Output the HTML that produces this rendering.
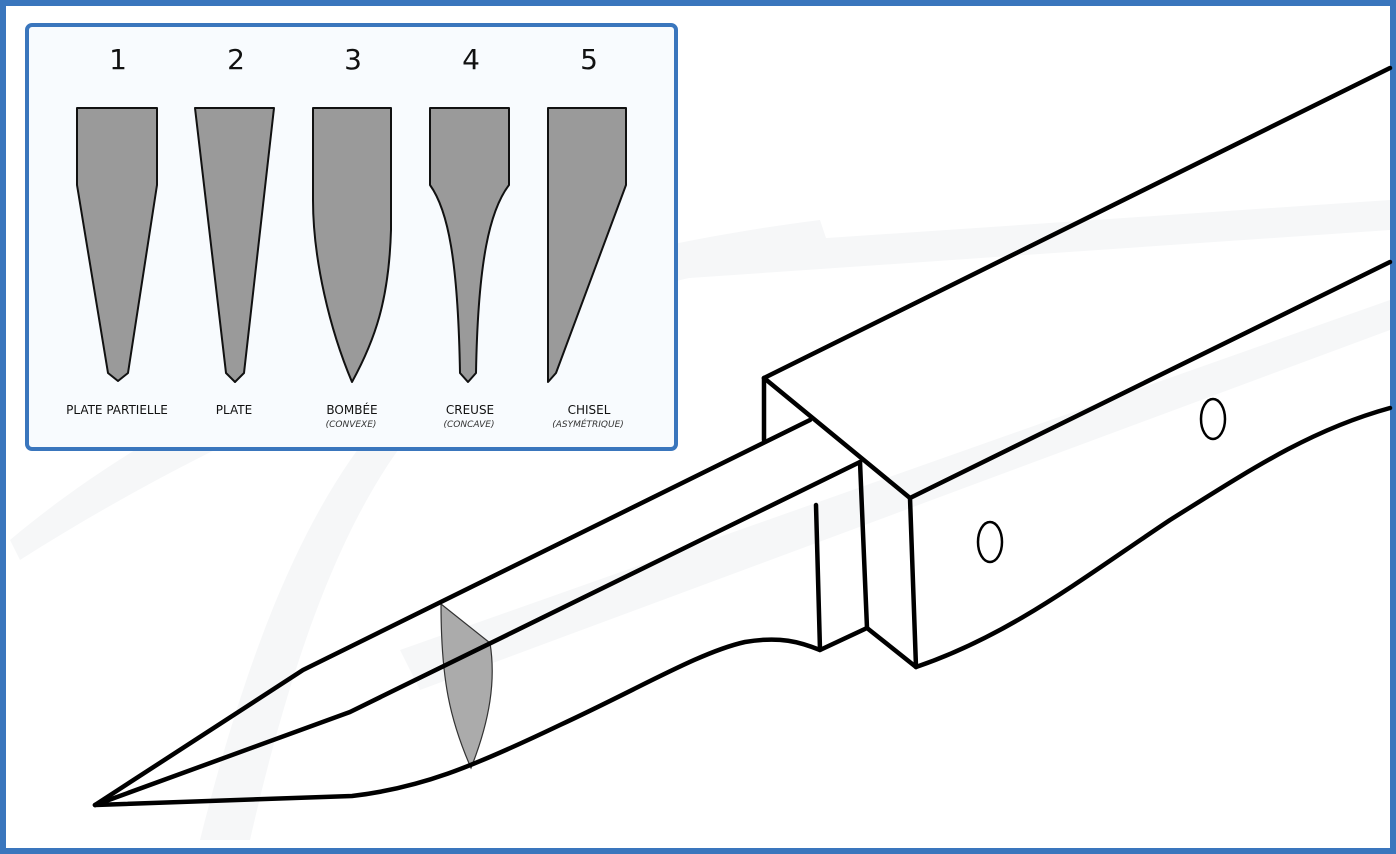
<!DOCTYPE html>
<html><head><meta charset="utf-8"><style>
html,body{margin:0;padding:0;background:#fff}
svg{display:block}
text{font-family:"DejaVu Sans","Liberation Sans",sans-serif}
</style></head><body>
<svg width="1396" height="854" viewBox="0 0 1396 854" xmlns="http://www.w3.org/2000/svg">
<rect x="0" y="0" width="1396" height="854" fill="#fff"/>
<g fill="#f6f7f8">
<path d="M10,540 C200,380 500,260 820,220 L830,250 C520,300 240,420 20,560 Z"/>
<path d="M650,250 L1390,200 L1390,230 L660,280 Z"/>
<path d="M400,650 L1390,300 L1390,330 L420,690 Z"/>
<path d="M200,840 C260,600 330,460 420,380 L440,400 C360,480 300,620 250,840 Z"/>
</g>
<rect x="3" y="3" width="1390" height="848" fill="none" stroke="#3a76bd" stroke-width="6"/>
<rect x="27" y="25" width="649" height="424" rx="5" fill="#f8fbfe" stroke="#3a76bd" stroke-width="4"/>
<g font-size="28" text-anchor="middle" fill="#111">
<text x="118" y="69">1</text><text x="236" y="69">2</text><text x="353" y="69">3</text><text x="471" y="69">4</text><text x="589" y="69">5</text>
</g>
<g fill="#9a9a9a" stroke="#111" stroke-width="2" stroke-linejoin="round">
<path d="M77,108 H157 V185 L128,373 L118,381 L108,373 L77,185 Z"/>
<path d="M195,108 H274 L244,373 L235,382 L226,373 Z"/>
<path d="M313,108 H391 V230 C389,300 375,340 352,382 C330,330 313,260 313,200 Z"/>
<path d="M430,108 H509 V185 C490,210 478,260 476,373 L468,382 L460,373 C458,260 448,210 430,185 Z"/>
<path d="M548,108 H626 V185 L556,373 L548,382 Z"/>
</g>
<g font-size="12" text-anchor="middle" fill="#111">
<text x="117" y="414">PLATE PARTIELLE</text>
<text x="234" y="414">PLATE</text>
<text x="352" y="414">BOMBÉE</text>
<text x="470" y="414">CREUSE</text>
<text x="589" y="414">CHISEL</text>
</g>
<g font-size="9" font-style="italic" text-anchor="middle" fill="#333">
<text x="351" y="427">(CONVEXE)</text>
<text x="469" y="427">(CONCAVE)</text>
<text x="588" y="427">(ASYMÉTRIQUE)</text>
</g>
<path d="M441,604 L490,643 C496,680 490,720 471,768 C450,720 441,680 441,604 Z" fill="#ababab" stroke="#333" stroke-width="1.2"/>
<g fill="none" stroke="#000" stroke-width="4.5" stroke-linejoin="round" stroke-linecap="round">
<path d="M95,805 L303,670 L810,420"/>
<path d="M95,805 L350,712 L860,462"/>
<path d="M95,805 L352,796 C420,788 470,768 560,725 C640,688 700,652 745,642 C780,636 800,642 820,650 L867,628"/>
<path d="M764,378 L764,440"/>
<path d="M764,378 L910,498"/>
<path d="M860,462 L867,628"/>
<path d="M816,505 L820,650"/>
<path d="M867,628 L916,667"/>
<path d="M910,498 L916,667"/>
<path d="M764,378 L1390,68"/>
<path d="M910,498 L1390,262"/>
<path d="M916,667 C1010,635 1080,580 1170,520 C1250,470 1310,430 1390,408"/>
</g>
<g fill="#fff" stroke="#000" stroke-width="2.5">
<ellipse cx="990" cy="542" rx="12" ry="20"/>
<ellipse cx="1213" cy="419" rx="12" ry="20"/>
</g>
</svg>
</body></html>
